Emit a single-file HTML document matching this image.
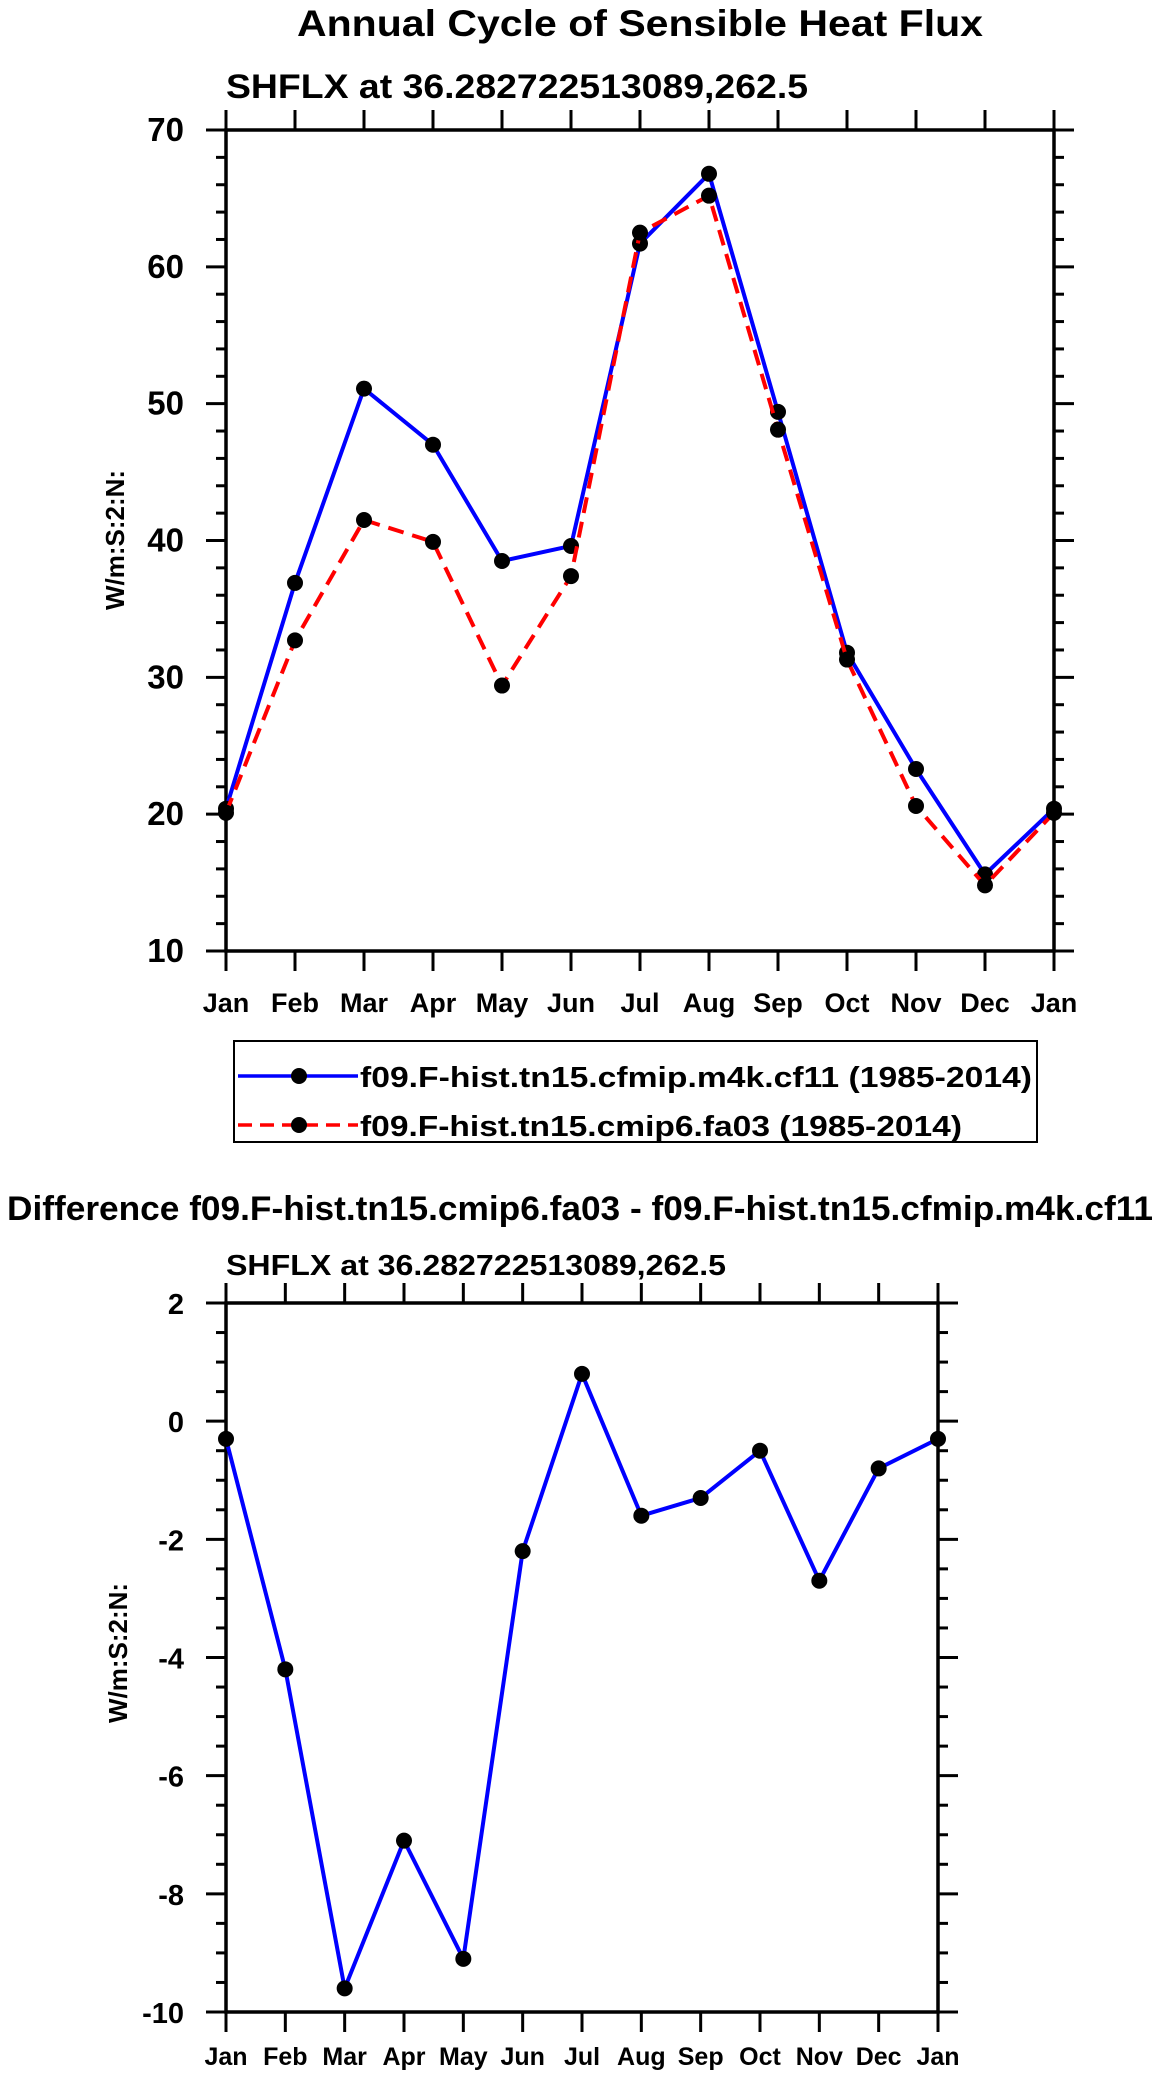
<!DOCTYPE html>
<html><head><meta charset="utf-8"><style>
html,body{margin:0;padding:0;background:#fff;}
svg{display:block;font-family:"Liberation Sans",Arial,sans-serif;font-weight:bold;}
</style></head><body>
<svg id="chart" width="1161" height="2076" viewBox="0 0 1161 2076" xmlns="http://www.w3.org/2000/svg">
<text x="640" y="36" font-size="37" text-anchor="middle" textLength="686" lengthAdjust="spacingAndGlyphs">Annual Cycle of Sensible Heat Flux</text>
<text x="226" y="98" font-size="34" textLength="582" lengthAdjust="spacingAndGlyphs">SHFLX at 36.282722513089,262.5</text>
<g>
<rect x="234" y="1041" width="803" height="101" fill="none" stroke="#000" stroke-width="2"/>
<g>
<line x1="238" y1="1076" x2="358" y2="1076" stroke="#0000ff" stroke-width="3.5"/>
<circle cx="299" cy="1076" r="8"/>
<text x="360" y="1087" font-size="29" textLength="672" lengthAdjust="spacingAndGlyphs">f09.F-hist.tn15.cfmip.m4k.cf11 (1985-2014)</text>
</g>
<g>
<line x1="238" y1="1125" x2="358" y2="1125" stroke="#ff0000" stroke-width="3.5" stroke-dasharray="14,8"/>
<circle cx="299" cy="1125" r="8"/>
<text x="360" y="1136" font-size="29" textLength="602" lengthAdjust="spacingAndGlyphs">f09.F-hist.tn15.cmip6.fa03 (1985-2014)</text>
</g>
</g>
<text x="580" y="1220" font-size="34" text-anchor="middle" textLength="1146" lengthAdjust="spacingAndGlyphs">Difference f09.F-hist.tn15.cmip6.fa03 - f09.F-hist.tn15.cfmip.m4k.cf11</text>
<text x="226" y="1275" font-size="29" textLength="500" lengthAdjust="spacingAndGlyphs">SHFLX at 36.282722513089,262.5</text>
<g id="top"></g>
<g id="bot"></g>
</svg>
<script>
const months = ["Jan","Feb","Mar","Apr","May","Jun","Jul","Aug","Sep","Oct","Nov","Dec","Jan"];
const cf11 = [20.4,36.9,51.1,47.0,38.5,39.6,61.7,66.8,49.4,31.8,23.3,15.6,20.4];
const fa03 = [20.1,32.7,41.5,39.9,29.4,37.4,62.5,65.2,48.1,31.3,20.6,14.8,20.1];
const diff = [-0.3,-4.2,-9.6,-7.1,-9.1,-2.2,0.8,-1.6,-1.3,-0.5,-2.7,-0.8,-0.3];
const topTicks = [10,20,30,40,50,60,70];
const botTicks = [-10,-8,-6,-4,-2,0,2];
const NS="http://www.w3.org/2000/svg";
function mk(p,tag,at){const e=document.createElementNS(NS,tag);for(const k in at)e.setAttribute(k,at[k]);p.appendChild(e);return e;}
function panel(g,cfg){
  const {x0,x1,y0,y1,vmin,vmax,ticks,minor,labelFs,xFs,xLabY,titleX,titleY}=cfg;
  const X=i=>x0+(x1-x0)*i/(months.length-1);
  const Y=v=>y1-(y1-y0)*(v-vmin)/(vmax-vmin);
  const ax=mk(g,"g",{});
  
  
  mk(ax,"rect",{x:x0,y:y0,width:x1-x0,height:y1-y0,fill:"none",stroke:"#000","stroke-width":3.5});
  for(let v=vmin;v<=vmax+1e-9;v+=minor){
    const major=ticks.some(t=>Math.abs(t-v)<1e-9);const L=major?20:10;
    mk(ax,"line",{x1:x0-L,y1:Y(v),x2:x0,y2:Y(v),stroke:"#000","stroke-width":3});
    mk(ax,"line",{x1:x1,y1:Y(v),x2:x1+L,y2:Y(v),stroke:"#000","stroke-width":3});
  }
  ticks.forEach(t=>{const e=mk(ax,"text",{x:x0-42,y:Y(t)+11,"font-size":labelFs,"text-anchor":"end"});e.textContent=t;
    
    });
  months.forEach((m,i)=>{
    mk(ax,"line",{x1:X(i),y1:y1,x2:X(i),y2:y1+20,stroke:"#000","stroke-width":3});
    mk(ax,"line",{x1:X(i),y1:y0,x2:X(i),y2:y0-20,stroke:"#000","stroke-width":3});
    const e=mk(ax,"text",{x:X(i),y:xLabY,"font-size":xFs,"text-anchor":"middle"});e.textContent=m;
    
    
  });
  const yt=mk(ax,"text",{x:0,y:0,"font-size":26,"text-anchor":"middle",transform:`translate(${titleX},${titleY}) rotate(-90)`});
  yt.textContent="W/m:S:2:N:";
  
  
  cfg.series.forEach(s=>{
    const sg=mk(g,"g",{});
    
    
    const pts=s.data.map((v,i)=>X(i)+","+Y(v)).join(" ");
    const at={points:pts,fill:"none",stroke:s.color,"stroke-width":4,"stroke-linejoin":"round"};
    if(s.dash)at["stroke-dasharray"]=s.dash;
    mk(sg,"polyline",at);
    s.data.forEach((v,i)=>{const c=mk(sg,"circle",{cx:X(i),cy:Y(v),r:8,fill:"#000"});
      
      });
  });
}
panel(document.getElementById("top"),{x0:226,x1:1054,y0:130,y1:951,vmin:10,vmax:70,ticks:topTicks,minor:2,labelFs:33,xFs:27,xLabY:1012,titleX:124,titleY:540,
  series:[{name:"series-cf11",data:cf11,color:"#0000ff"},{name:"series-fa03",data:fa03,color:"#ff0000",dash:"16,9"}]});
panel(document.getElementById("bot"),{x0:226,x1:938,y0:1303,y1:2012,vmin:-10,vmax:2,ticks:botTicks,minor:0.5,labelFs:29,xFs:25,xLabY:2065,titleX:127,titleY:1653,
  series:[{name:"series-difference",data:diff,color:"#0000ff"}]});
</script>
</body></html>
